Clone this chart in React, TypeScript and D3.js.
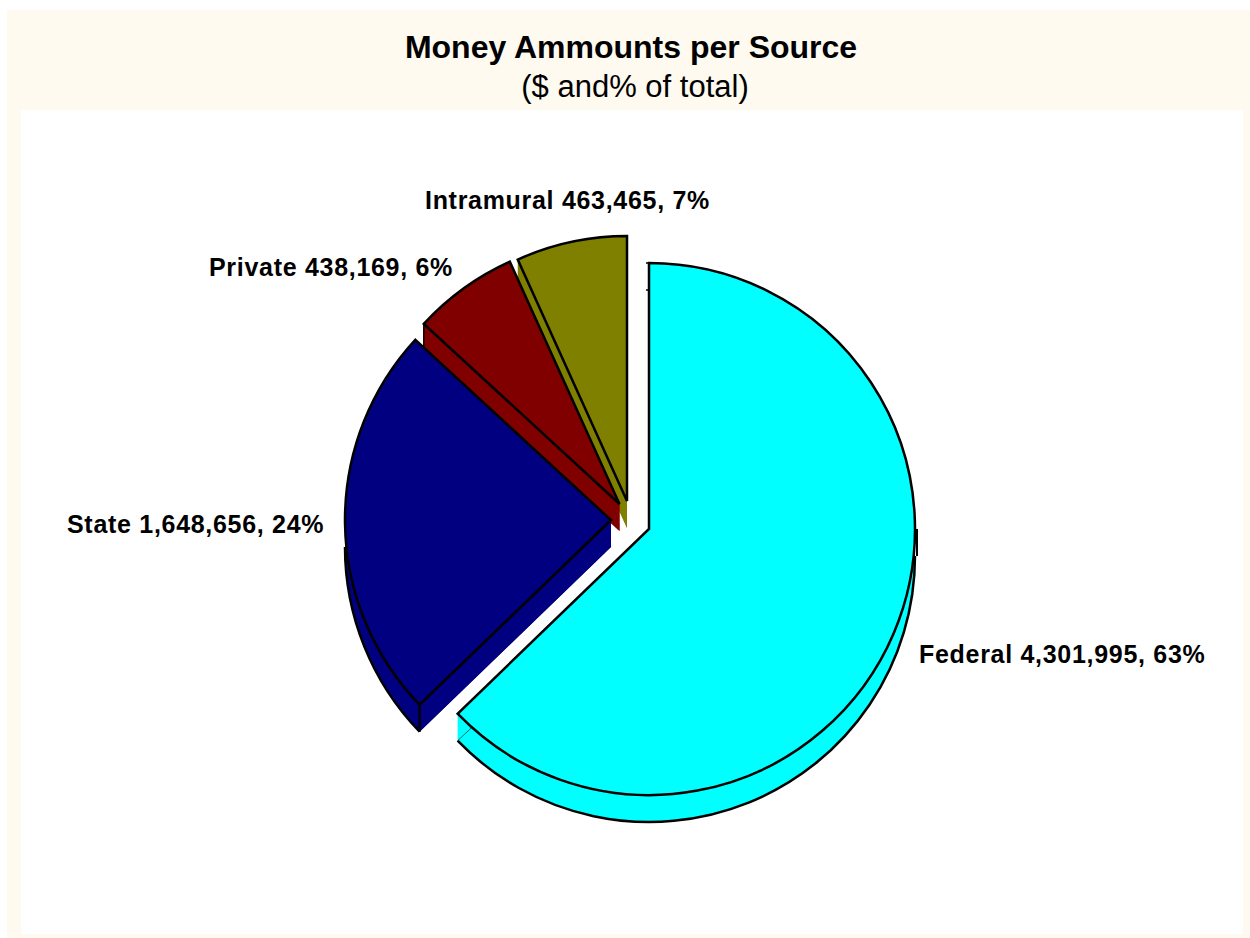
import React from "react";
import * as d3 from "d3";

const categories = ["Federal", "State", "Private", "Intramural"];
const values = [4301995, 1648656, 438169, 463465];
const percents = ["63%", "24%", "6%", "7%"];
const colors = ["#00ffff", "#000080", "#800000", "#808000"];
const centers = [[649, 529], [611, 520], [619.5, 504], [627, 501]];
const radii = [266, 266, 266, 265];
const labelPos = [[919, 663], [67, 533], [209, 276], [425, 209]];
const DEPTH = 27;
const SW = 2.5;

const fmt = d3.format(",");

function pt(c: number[], R: number, a: number, dy = 0) {
  return [c[0] + R * Math.sin(a), c[1] - R * Math.cos(a) + dy];
}

function arcStroke(c: number[], R: number, a0: number, a1: number, dy: number) {
  const p1 = pt(c, R, a1, dy);
  const p0 = pt(c, R, a0, dy);
  const large = Math.abs(a1 - a0) > Math.PI ? 1 : 0;
  const sweep = a1 > a0 ? 1 : 0;
  return `M${p0[0]},${p0[1]}A${R},${R} 0 ${large} ${sweep} ${p1[0]},${p1[1]}`;
}

export default function App() {
  const arcs = d3.pie<number>().sort(null).value((d) => d)(values);
  const order = [3, 2, 1, 0];

  return (
    <svg
      width={1250}
      height={938}
      style={{ position: "absolute", left: 0, top: 0, background: "#ffffff" }}
      fontFamily="'Liberation Sans', Arial, sans-serif"
    >
      <rect x={7} y={10} width={1243} height={928} fill="#fffaf0" />
      <rect x={21} y={110} width={1222} height={824} fill="#ffffff" />

      <text x={631} y={58} textAnchor="middle" fontSize={32} fontWeight="bold" fill="#000">
        Money Ammounts per Source
      </text>
      <text x={635} y={97} textAnchor="middle" fontSize={31} fill="#000">
        ($ and% of total)
      </text>

      {order.map((i) => {
        const a = arcs[i];
        const c = centers[i];
        const R = radii[i];
        const top = d3.arc<any>().innerRadius(0).outerRadius(R)(a) as string;
        const pe = pt(c, R, a.endAngle);
        const ps = pt(c, R, a.startAngle);
        return (
          <g key={categories[i]}>
            <path d={top} transform={`translate(${c[0]},${c[1] + DEPTH})`} fill={colors[i]} />
            <polygon
              points={[c, pe, [pe[0], pe[1] + DEPTH], [c[0], c[1] + DEPTH]].map((p) => p.join(",")).join(" ")}
              fill={colors[i]}
            />
            <polygon
              points={[c, ps, [ps[0], ps[1] + DEPTH], [c[0], c[1] + DEPTH]].map((p) => p.join(",")).join(" ")}
              fill={colors[i]}
            />
            {i === 0 && (
              <>
                <path d={arcStroke(c, R, Math.PI / 2, a.endAngle, DEPTH)} fill="none" stroke="#000" strokeWidth={SW} />
                <line x1={c[0] + R + 2} y1={c[1]} x2={c[0] + R + 2} y2={c[1] + DEPTH} stroke="#000" strokeWidth={2} />
                <line x1={c[0] - 3} y1={c[1] - R + DEPTH} x2={c[0]} y2={c[1] - R + DEPTH} stroke="#000" strokeWidth={1.5} />
                <line x1={c[0] - 3} y1={c[1] - R} x2={c[0]} y2={c[1] - R} stroke="#000" strokeWidth={1.5} />
                <line x1={pe[0]} y1={pe[1] + DEPTH} x2={pe[0] + 15} y2={pe[1] + DEPTH - 14} stroke="#006a6a" strokeWidth={1} />
              </>
            )}
            {i === 1 && (
              <>
                <path d={arcStroke(c, R, (3 * Math.PI) / 2, a.startAngle, DEPTH)} fill="none" stroke="#000" strokeWidth={SW} />
                <line x1={ps[0]} y1={ps[1]} x2={ps[0]} y2={ps[1] + DEPTH} stroke="#000" strokeWidth={SW} />
              </>
            )}
            {i === 2 && (
              <line x1={ps[0]} y1={ps[1]} x2={ps[0]} y2={ps[1] + DEPTH} stroke="#000" strokeWidth={1.5} />
            )}
            <path d={top} transform={`translate(${c[0]},${c[1]})`} fill={colors[i]} stroke="#000" strokeWidth={SW} strokeLinejoin="miter" />
          </g>
        );
      })}

      {categories.map((cat, i) => (
        <text key={cat} x={labelPos[i][0]} y={labelPos[i][1]} fontSize={25} letterSpacing={0.7} fontWeight="bold" fill="#000">
          {`${cat} ${fmt(values[i])}, ${percents[i]}`}
        </text>
      ))}
    </svg>
  );
}
